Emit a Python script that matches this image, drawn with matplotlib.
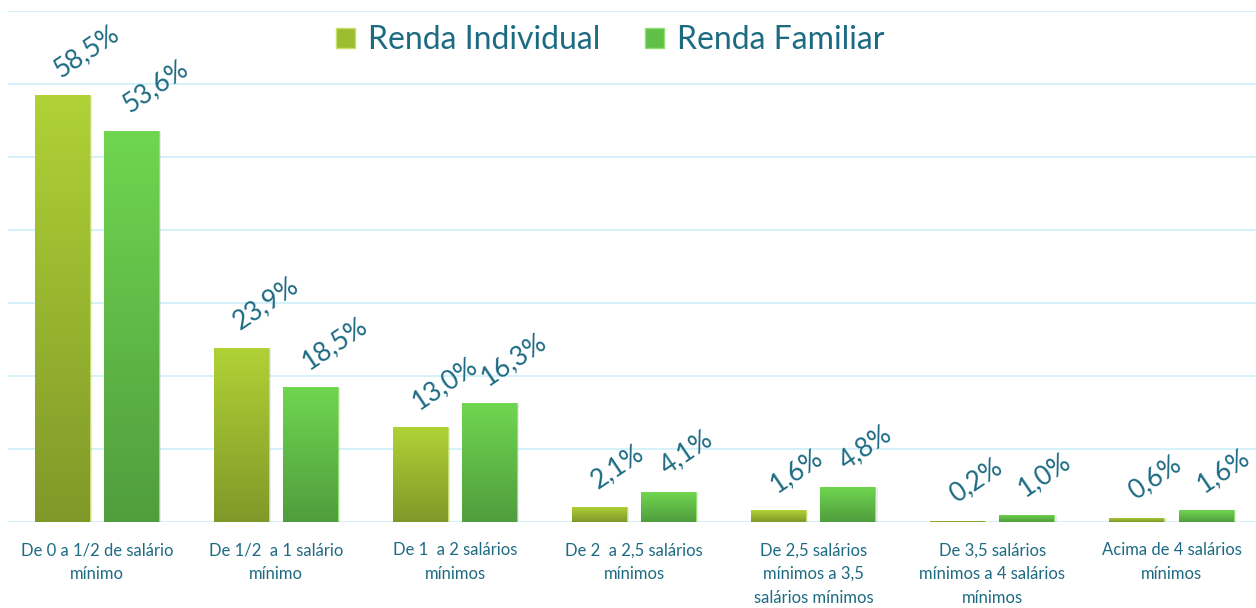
import matplotlib
matplotlib.use("Agg")
import matplotlib.pyplot as plt
import numpy as np
from matplotlib.colors import LinearSegmentedColormap
from matplotlib.patches import Patch

categories = [
    "De 0 a 1/2 de salário\nmínimo",
    "De 1/2  a 1 salário\nmínimo",
    "De 1  a 2 salários\nmínimos",
    "De 2  a 2,5 salários\nmínimos",
    "De 2,5 salários\nmínimos a 3,5\nsalários mínimos",
    "De 3,5 salários\nmínimos a 4 salários\nmínimos",
    "Acima de 4 salários\nmínimos",
]
renda_individual = [58.5, 23.9, 13.0, 2.1, 1.6, 0.2, 0.6]
renda_familiar = [53.6, 18.5, 16.3, 4.1, 4.8, 1.0, 1.6]
labels_individual = ["58,5%", "23,9%", "13,0%", "2,1%", "1,6%", "0,2%", "0,6%"]
labels_familiar = ["53,6%", "18,5%", "16,3%", "4,1%", "4,8%", "1,0%", "1,6%"]
series_names = ["Renda Individual", "Renda Familiar"]

plt.rcParams['font.family'] = ['Lato', 'DejaVu Sans']
text_color = "#1d6b83"
grid_color = "#cdeff8"

fig = plt.figure(figsize=(12.56, 6.08), dpi=100)
ax = fig.add_axes([0.006, 0.1414, 0.998, 0.8405])

x = np.arange(len(categories))
w = 0.307
off = 0.193

ind_cols = ("#b0d236", "#809829")
fam_cols = ("#70d650", "#509d3e")

bars_i = ax.bar(x - off, renda_individual, w, color=ind_cols[0], edgecolor="#c6e06a", linewidth=0.6, zorder=3)
bars_f = ax.bar(x + off, renda_familiar, w, color=fam_cols[0], edgecolor="#8fe070", linewidth=0.6, zorder=3)

def gradient_fill(bars, cols):
    cmap = LinearSegmentedColormap.from_list("g", [cols[1], cols[0]])
    grad = np.linspace(0, 1, 256).reshape(-1, 1)
    for b in bars:
        x0, y0 = b.get_x(), b.get_y()
        bw, bh = b.get_width(), b.get_height()
        ax.bar(x0 + bw / 2 + 0.006, bh, bw + 0.012, bottom=-0.15, color="#000000", alpha=0.08, zorder=2, linewidth=0)
        im = ax.imshow(grad, extent=[x0, x0 + bw, y0, y0 + bh], origin="lower",
                       aspect="auto", cmap=cmap, zorder=3.5)
        im.set_clip_path(b)

gradient_fill(bars_i, ind_cols)
gradient_fill(bars_f, fam_cols)

for bars, labs in ((bars_i, labels_individual), (bars_f, labels_familiar)):
    for b, lab in zip(bars, labs):
        ax.annotate(lab, (b.get_x() + b.get_width() / 2, b.get_height()),
                    xytext=(-1.5, 12.5), textcoords="offset points",
                    rotation=34, rotation_mode="anchor", ha="left", va="baseline",
                    fontsize=19, color=text_color, zorder=5)

ax.set_xlim(-0.5, len(categories) - 0.5)
ax.set_ylim(0, 70)
ax.set_yticks(np.arange(0, 71, 10))
ax.yaxis.grid(True, color=grid_color, linewidth=1.2, zorder=0)
ax.set_axisbelow(True)
ax.tick_params(axis="y", left=False, labelleft=False)
ax.tick_params(axis="x", bottom=False, pad=11)
ax.set_xticks(x)
ax.set_xticklabels(categories, fontsize=12, color=text_color, linespacing=1.6)
for s in ax.spines.values():
    s.set_visible(False)

handles = [Patch(facecolor="#9cbd30", edgecolor="#c6e06a"), Patch(facecolor="#5fbf47", edgecolor="#8fe070")]
leg = ax.legend(handles, series_names, loc="center", bbox_to_anchor=(0.481, 0.943), ncol=2,
                frameon=False, fontsize=23, handlelength=0.6, handleheight=0.6,
                handletextpad=0.4, columnspacing=1.4)
for t in leg.get_texts():
    t.set_color(text_color)

fig.savefig("out.png", dpi=100)
